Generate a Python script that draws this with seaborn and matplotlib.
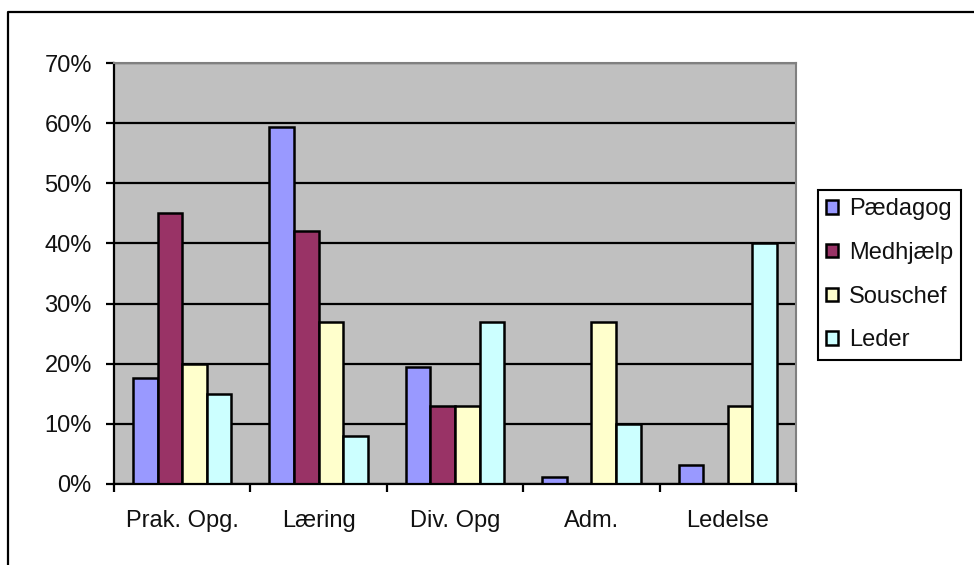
import seaborn as sns
import pandas as pd
import matplotlib.pyplot as plt
from matplotlib.lines import Line2D
from matplotlib.ticker import FuncFormatter, FixedLocator

# data (percent)
categories = ['Prak. Opg.', 'Læring', 'Div. Opg', 'Adm.', 'Ledelse']
roles = ['Pædagog', 'Medhjælp', 'Souschef', 'Leder']
paedagog = [17.7, 59.3, 19.4, 1.2, 3.2]
medhjaelp = [45.0, 42.0, 13.0, 0.0, 0.0]
souschef = [20.0, 27.0, 13.0, 27.0, 13.0]
leder = [15.0, 8.0, 27.0, 10.0, 40.0]
colors = ['#9999FF', '#993366', '#FFFFCC', '#CCFFFF']

rows = []
for role, vals in zip(roles, [paedagog, medhjaelp, souschef, leder]):
    for cat, v in zip(categories, vals):
        rows.append({'kategori': cat, 'stilling': role, 'andel': v})
df = pd.DataFrame(rows)

FS = 17
sns.set_style('white')
plt.rcParams['font.family'] = ['Liberation Sans', 'DejaVu Sans']
plt.rcParams['font.size'] = FS
plt.rcParams['text.color'] = '#111111'

fig = plt.figure(figsize=(9.74, 5.65), dpi=100)
ax = fig.add_axes([114 / 974, 1 - 484 / 565, (796 - 114) / 974, (484 - 63) / 565])

sns.barplot(data=df, x='kategori', y='andel', hue='stilling',
            order=categories, hue_order=roles, palette=colors, saturation=1,
            width=0.72, edgecolor='black', linewidth=1.8, ax=ax)

ax.set_facecolor('#C0C0C0')
ax.set_ylim(0, 70)
ax.set_xlim(-0.5, len(categories) - 0.5)
ax.set_yticks(range(0, 71, 10))
ax.yaxis.set_major_formatter(FuncFormatter(lambda v, _: f'{int(v)}%'))
ax.set_xlabel('')
ax.set_ylabel('')

ax.set_axisbelow(True)
ax.yaxis.grid(True, color='black', linewidth=1.6)
ax.xaxis.grid(False)

for side in ['top', 'right']:
    ax.spines[side].set_color('#808080')
    ax.spines[side].set_linewidth(1.5)
for side in ['left', 'bottom']:
    ax.spines[side].set_color('black')
    ax.spines[side].set_linewidth(1.6)

ax.tick_params(axis='y', which='major', direction='out', length=6, width=1.6,
               color='black', pad=10, labelsize=FS, labelcolor='#111111', left=True)
ax.tick_params(axis='x', which='major', length=0, pad=19, labelsize=FS,
               labelcolor='#111111')
ax.xaxis.set_minor_locator(FixedLocator([i - 0.5 for i in range(len(categories) + 1)]))
ax.tick_params(axis='x', which='minor', direction='out', length=6, width=1.6,
               color='black', bottom=True)

handles, labels = ax.get_legend_handles_labels()
leg = ax.legend(handles, labels, loc='upper left',
                bbox_to_anchor=(818 / 974, 1 - 190 / 565), bbox_transform=fig.transFigure,
                frameon=True, fancybox=False, framealpha=1, edgecolor='black',
                handlelength=0.5, handleheight=0.5, handletextpad=0.45,
                labelspacing=0.92, borderpad=0.35, borderaxespad=0, fontsize=FS)
leg.get_frame().set_linewidth(1.5)

# outer chart frame (only top and left edges visible in the crop)
fig.add_artist(Line2D([8 / 974, 8 / 974, 1.0], [0.0, 1 - 12 / 565, 1 - 12 / 565],
                      transform=fig.transFigure, color='black', linewidth=1.6))

fig.savefig('out.png', dpi=100)
